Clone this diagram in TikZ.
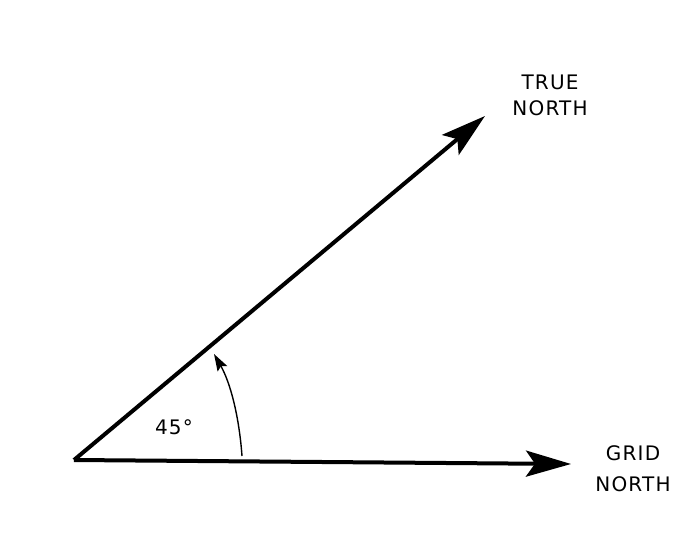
\documentclass[tikz,border=0pt]{standalone}
\usepackage{fontspec}
\setmainfont{DejaVu Sans}[LetterSpace=6]
\usetikzlibrary{arrows.meta}
\tikzset{
  ray/.style={line width=4pt, -{Stealth[length=45pt,width=26pt,inset=9pt]}},
  anglearc/.style={line width=1.4pt, -{Stealth[length=17pt,width=11pt,inset=3pt]}},
  lbl/.style={font=\fontsize{20}{26}\selectfont, align=center, inner sep=0pt}
}
\begin{document}
\begin{tikzpicture}[x=1pt,y=-1pt]
\useasboundingbox (0,0) rectangle (692,545);
\coordinate (O) at (74,460);
\coordinate (TN) at (485,116);
\coordinate (GN) at (571,464);
\coordinate (A1) at (242,456);
\coordinate (A2) at (214,354);
\draw[ray] (O) -- (TN);
\draw[ray] (O) -- (GN);
\draw[anglearc] (A1) .. controls (239,415) and (230,382) .. (A2);
\node[lbl] (ang) at (174,427) {45°};
\node[lbl] (tlab) at (550,95) {TRUE\\NORTH};
\node[lbl, font=\fontsize{20}{31}\selectfont] (glab) at (633,469) {GRID\\NORTH};
\end{tikzpicture}
\end{document}
